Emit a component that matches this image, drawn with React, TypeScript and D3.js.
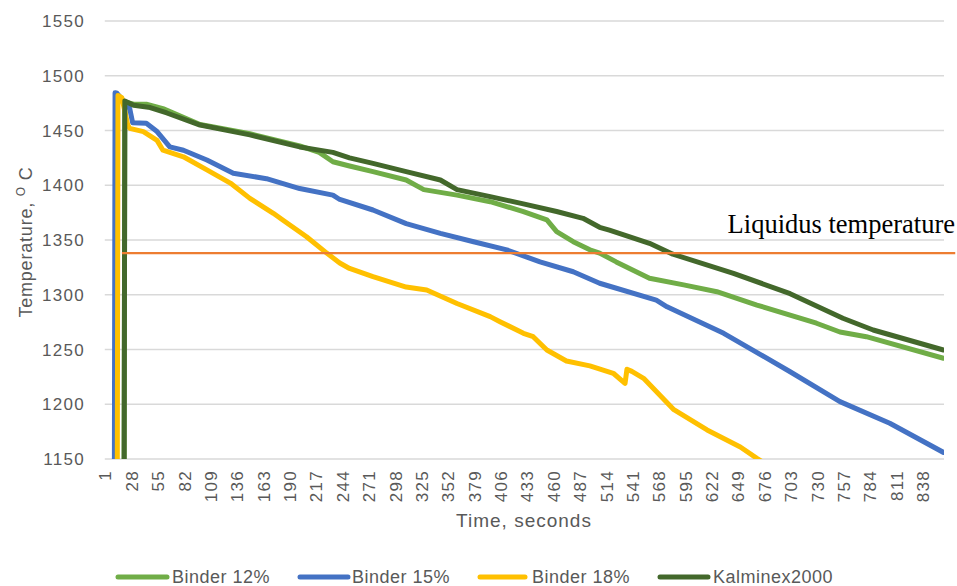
import React from "react";
import * as d3 from "d3";

// ---- Data ----
const seriesNames = ["Binder 12%", "Binder 15%", "Binder 18%", "Kalminex2000"];
const seriesColors = ["#70AD47", "#4472C4", "#FFC000", "#43682B"];

const time12 = [1, 20, 21, 30, 43, 60, 98, 149, 200, 220, 234, 251, 275, 309, 327, 361, 395, 429, 453, 463, 480, 497, 507, 524, 558, 593, 627, 668, 729, 753, 780, 859];
const temp12 = [1000, 1000, 1476, 1474, 1474, 1470, 1455.5, 1447, 1436, 1430, 1421.5, 1417.6, 1412.4, 1404.8, 1396, 1391, 1385, 1376, 1368.3, 1357.6, 1348.5, 1341, 1338, 1330, 1315, 1309, 1302.8, 1290.6, 1274, 1266, 1261.7, 1242];

const time15 = [1, 10, 11, 13, 26, 29, 43, 54, 67, 81, 105, 132, 166, 200, 234, 241, 275, 309, 344, 378, 412, 446, 480, 507, 565, 576, 634, 702, 753, 804, 859];
const temp15 = [1000, 1000, 1484.5, 1484, 1470, 1457, 1456.6, 1449, 1435, 1432, 1423, 1411, 1406, 1397, 1391, 1387, 1377.4, 1365, 1356, 1348.4, 1341, 1330, 1321, 1310.5, 1295, 1289, 1264.8, 1229.7, 1202.4, 1182.6, 1156];

const time18 = [1, 13, 14, 18, 24, 26, 40, 54, 60, 81, 105, 129, 149, 173, 183, 207, 228, 241, 251, 275, 309, 330, 361, 395, 405, 429, 439, 453, 473, 497, 521, 533, 535, 540, 552, 583, 617, 651, 668, 690];
const temp18 = [1000, 1000, 1482, 1480, 1455, 1452, 1449, 1441, 1432, 1426, 1414, 1402, 1388, 1374.4, 1368, 1353, 1337.8, 1329, 1324, 1316.5, 1307, 1304.3, 1292, 1280, 1275.4, 1264.8, 1261.7, 1249.5, 1239.5, 1235, 1228.3, 1219, 1232, 1230, 1223.7, 1195, 1176.5, 1161, 1150.6, 1138];

const timeK = [1, 20, 21, 30, 47, 64, 98, 149, 200, 234, 251, 275, 309, 344, 361, 395, 429, 463, 490, 507, 517, 558, 582, 644, 702, 756, 787, 859];
const tempK = [1000, 1000, 1477, 1473, 1471, 1466, 1455, 1446, 1435, 1430, 1425, 1420, 1412.4, 1404.8, 1396, 1389.6, 1383, 1376, 1369.8, 1361.6, 1359, 1347, 1337, 1319.6, 1301, 1278.5, 1267.8, 1249.5];

const liquidusTemp = 1338;
const liquidusTimes = [18, 871];
const liquidusLabel = "Liquidus temperature";

const yTicks = [1150, 1200, 1250, 1300, 1350, 1400, 1450, 1500, 1550];
const xTicks = d3.range(1, 860, 27);

const allTimes = [time12, time15, time18, timeK];
const allTemps = [temp12, temp15, temp18, tempK];

// ---- Layout ----
const W = 957;
const H = 586;
const left = 104.8;
const right = 944;
const top = 21;
const bottom = 459;

const x = d3.scaleLinear().domain([0.5, 859.5]).range([left, right]);
const y = d3.scaleLinear().domain([1150, 1550]).range([bottom, top]);

const lineGen = d3
  .line<[number, number]>()
  .x((d) => x(d[0]))
  .y((d) => y(d[1]));

const font = "'Liberation Sans', Arial, sans-serif";
const gray = "#595959";

const legendPos = [
  { x1: 118, x2: 167, tx: 172 },
  { x1: 300, x2: 348, tx: 352 },
  { x1: 480, x2: 525, tx: 532 },
  { x1: 660, x2: 708, tx: 713 },
];

export default function App() {
  return (
    <svg
      width={W}
      height={H}
      style={{ position: "absolute", left: 0, top: 0, background: "#fff" }}
    >
      <defs>
        <clipPath id="plot">
          <rect x={left - 10} y={0} width={right - left + 10} height={bottom} />
        </clipPath>
      </defs>
      <rect width={W} height={H} fill="#fff" />
      {yTicks.map((t) => (
        <line
          key={t}
          x1={left}
          x2={right}
          y1={y(t)}
          y2={y(t)}
          stroke="#D9D9D9"
          strokeWidth={1.5}
        />
      ))}
      {yTicks.map((t) => (
        <text
          key={"l" + t}
          x={85}
          y={y(t)}
          dy="0.36em"
          textAnchor="end"
          fontFamily={font}
          fontSize={17}
          letterSpacing={1.3}
          fill={gray}
        >
          {t}
        </text>
      ))}
      {xTicks.map((t) => (
        <text
          key={"x" + t}
          transform={`translate(${x(t)},470) rotate(-90)`}
          dy="0.36em"
          textAnchor="end"
          fontFamily={font}
          fontSize={17}
          letterSpacing={1.3}
          fill={gray}
        >
          {t}
        </text>
      ))}
      <g clipPath="url(#plot)">
        {allTimes.map((ts, i) => (
          <path
            key={seriesNames[i]}
            d={lineGen(d3.zip(ts, allTemps[i]) as [number, number][]) || ""}
            fill="none"
            stroke={seriesColors[i]}
            strokeWidth={5}
            strokeLinejoin="round"
            strokeLinecap="round"
          />
        ))}
      </g>
      <line
        x1={x(liquidusTimes[0])}
        x2={x(liquidusTimes[1])}
        y1={y(liquidusTemp)}
        y2={y(liquidusTemp)}
        stroke="#ED7D31"
        strokeWidth={2.2}
      />
      <text
        x={955}
        y={233}
        textAnchor="end"
        fontFamily="'Liberation Serif', 'Times New Roman', serif"
        fontSize={26.5}
        fill="#000"
      >
        {liquidusLabel}
      </text>
      <text
        x={524}
        y={527}
        textAnchor="middle"
        fontFamily={font}
        fontSize={19}
        letterSpacing={1}
        fill={gray}
      >
        Time, seconds
      </text>
      <text
        transform="translate(32,242) rotate(-90)"
        textAnchor="middle"
        fontFamily={font}
        fontSize={18}
        letterSpacing={0.8}
        fill={gray}
      >
        Temperature,{" "}
        <tspan fontSize={12} dy={-7}>
          O
        </tspan>
        <tspan dy={7}> C</tspan>
      </text>
      {legendPos.map((p, i) => (
        <g key={"lg" + i}>
          <line
            x1={p.x1}
            x2={p.x2}
            y1={577}
            y2={577}
            stroke={seriesColors[i]}
            strokeWidth={5}
            strokeLinecap="round"
          />
          <text
            x={p.tx}
            y={583}
            fontFamily={font}
            fontSize={18}
            letterSpacing={0.5}
            fill={gray}
          >
            {seriesNames[i]}
          </text>
        </g>
      ))}
    </svg>
  );
}
